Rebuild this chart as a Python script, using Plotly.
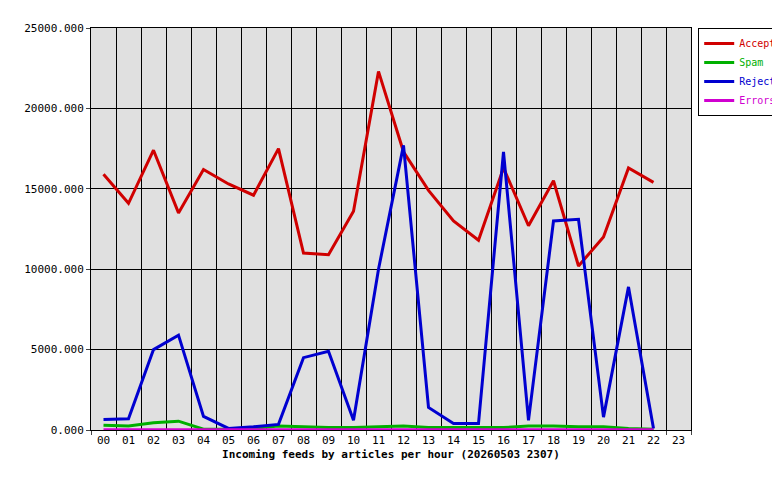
import plotly.graph_objects as go

hours = [f"{i:02d}" for i in range(24)]
accepted = [15900, 14100, 17400, 13500, 16200, 15300, 14600, 17500, 11000, 10900, 13600, 22300,
            17300, 14900, 13000, 11800, 16300, 12700, 15500, 10200, 12000, 16300, 15400]
spam = [300, 250, 450, 550, 50, 50, 100, 250, 200, 150, 150, 200, 250, 150, 150, 150, 150, 250,
        250, 200, 200, 100, 50]
rejected = [650, 700, 5000, 5900, 850, 100, 200, 350, 4500, 4900, 600, 10000, 17700, 1400, 400,
            400, 17300, 600, 13000, 13100, 800, 8900, 100]
errors = [20] * 23

series = [("Accepted", accepted, "#d00000"), ("Spam", spam, "#00b000"),
          ("Rejected", rejected, "#0000d0"), ("Errors", errors, "#d000d0")]

fig = go.Figure()
for name, vals, col in series:
    fig.add_trace(go.Scatter(x=hours[:len(vals)], y=vals,
                             name=f'<span style="color:{col}">{name}</span>', mode="lines",
                             line=dict(color=col, width=3)))

fig.update_layout(
    width=780, height=480, paper_bgcolor="white", plot_bgcolor="#e0e0e0",
    margin=dict(l=83, r=97, t=20, b=58, autoexpand=False),
    font=dict(family="DejaVu Sans Mono", size=11, color="black"),
    legend=dict(x=1.012, y=1, xanchor="left", yanchor="top", bordercolor="black",
                borderwidth=1, bgcolor="white", font=dict(size=10), tracegroupgap=0,
                itemwidth=30),
    xaxis=dict(type="category", categoryorder="array", categoryarray=hours, range=[-0.5, 23.5],
               tickson="boundaries", showgrid=True, gridcolor="black", gridwidth=1,
               automargin=False,
               showline=True, linecolor="black", mirror=True, ticks="outside", ticklen=4,
               title=dict(text="<b>Incoming feeds by articles per hour (20260503 2307)</b>",
                          standoff=4, font=dict(size=11))),
    yaxis=dict(range=[0, 25000], dtick=5000, tickformat=".3f", showgrid=True, gridcolor="black",
               automargin=False,
               showline=True, linecolor="black", mirror=True, ticks="outside", ticklen=4,
               zeroline=False),
)
fig.write_html("out.html")
